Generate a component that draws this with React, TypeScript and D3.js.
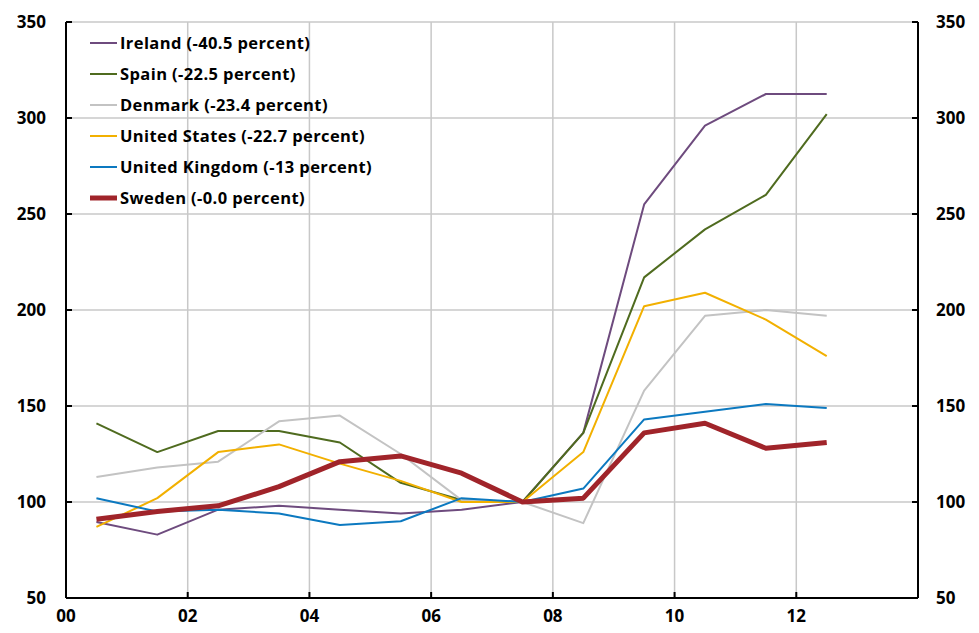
import * as d3 from 'd3'

const years = [0.5, 1.5, 2.5, 3.5, 4.5, 5.5, 6.5, 7.5, 8.5, 9.5, 10.5, 11.5, 12.5]
const ireland = [89.6, 83, 96, 98, 96, 94, 96, 100, 136, 255, 296, 312.5, 312.5]
const spain = [141, 126, 137, 137, 131, 110, 101, 100, 136, 217, 242, 260, 302]
const denmark = [113, 118, 121, 142, 145, 125, 101, 100, 89, 158, 197, 200, 197]
const us = [87, 102, 126, 130, 120, 111, 100, 100, 126, 202, 209, 195, 176]
const uk = [102, 95, 96, 94, 88, 90, 102, 100, 107, 143, 147, 151, 149]
const sweden = [91, 95, 98, 108, 121, 124, 115, 100, 102, 136, 141, 128, 131]
const xTicks = [0, 2, 4, 6, 8, 10, 12]
const xLabels = ['00', '02', '04', '06', '08', '10', '12']
const yTicks = [50, 100, 150, 200, 250, 300, 350]

const series = [
  { name: 'Ireland (-40.5 percent)', values: ireland, color: '#6e4b7e', w: 2 },
  { name: 'Spain (-22.5 percent)', values: spain, color: '#4f6b1f', w: 2 },
  { name: 'Denmark (-23.4 percent)', values: denmark, color: '#c3c3c3', w: 2 },
  { name: 'United States (-22.7 percent)', values: us, color: '#f2b000', w: 2 },
  { name: 'United Kingdom (-13 percent)', values: uk, color: '#0c79c0', w: 2 },
  { name: 'Sweden (-0.0 percent)', values: sweden, color: '#a0242a', w: 5 },
]

export default function App() {
  const x = d3.scaleLinear().domain([0, 14]).range([66, 918])
  const y = d3.scaleLinear().domain([50, 350]).range([598, 22])
  const line = (v: number[]) =>
    d3.line<number>().x((_, i) => x(years[i])).y((d) => y(d))(v) || ''
  const font = { fontFamily: '"Open Sans", sans-serif', fontWeight: 700 }
  return (
    <svg width={979} height={633} style={{ position: 'absolute', left: 0, top: 0 }}>
      <rect width={979} height={633} fill="#fff" />
      {xTicks.slice(1).map((t) => (
        <line key={t} x1={x(t)} x2={x(t)} y1={22} y2={598} stroke="#c8c8c8" strokeWidth={1.5} />
      ))}
      {yTicks.slice(1).map((t) => (
        <line key={t} x1={66} x2={918} y1={y(t)} y2={y(t)} stroke="#c8c8c8" strokeWidth={1.5} />
      ))}
      {series.map((s) => (
        <path key={s.name} d={line(s.values)} fill="none" stroke={s.color} strokeWidth={s.w} strokeLinejoin="round" />
      ))}
      <line x1={66} x2={66} y1={22} y2={598} stroke="#000" strokeWidth={2} />
      <line x1={918} x2={918} y1={22} y2={598} stroke="#000" strokeWidth={2} />
      <line x1={66} x2={918} y1={598} y2={598} stroke="#000" strokeWidth={2} />
      {yTicks.map((t) => (
        <g key={t}>
          <line x1={66} x2={72} y1={y(t)} y2={y(t)} stroke="#000" strokeWidth={2} />
          <line x1={912} x2={918} y1={y(t)} y2={y(t)} stroke="#000" strokeWidth={2} />
          <text x={46} y={y(t)} dy="0.35em" textAnchor="end" fontSize={17} {...font}>{t}</text>
          <text x={936} y={y(t)} dy="0.35em" fontSize={17} {...font}>{t}</text>
        </g>
      ))}
      {xTicks.map((t, i) => (
        <g key={t}>
          <line x1={x(t)} x2={x(t)} y1={592} y2={598} stroke="#000" strokeWidth={2} />
          <text x={x(t)} y={622} textAnchor="middle" fontSize={17} {...font}>{xLabels[i]}</text>
        </g>
      ))}
      {series.map((s, i) => (
        <g key={s.name} transform={`translate(0,${43 + i * 31})`}>
          <line x1={90} x2={117} y1={0} y2={0} stroke={s.color} strokeWidth={s.w} />
          <text x={120} y={0} dy="0.35em" fontSize={16.5} letterSpacing={0.4} {...font}>{s.name}</text>
        </g>
      ))}
    </svg>
  )
}
